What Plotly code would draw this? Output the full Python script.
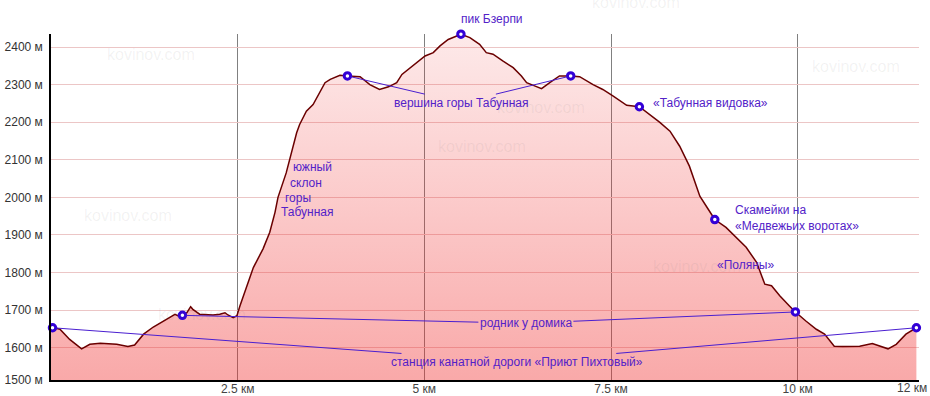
import plotly.graph_objects as go

# ---- data: elevation profile (km, m) ----
dist_km = [0.00, 0.12, 0.25, 0.41, 0.52, 0.66, 0.88, 1.03, 1.12, 1.24, 1.37, 1.55, 1.66, 1.70,
           1.76, 1.82, 1.87, 1.90, 1.99, 2.17, 2.26, 2.33, 2.37, 2.44, 2.49, 2.53, 2.62, 2.71,
           2.84, 2.93, 3.00, 3.04, 3.15, 3.24, 3.29, 3.33, 3.42, 3.51, 3.58, 3.67, 3.74, 3.82,
           3.87, 3.97, 4.14, 4.27, 4.40, 4.52, 4.63, 4.70, 4.81, 4.90, 5.01, 5.12, 5.21, 5.32,
           5.41, 5.49, 5.61, 5.74, 5.83, 5.92, 6.05, 6.19, 6.30, 6.37, 6.46, 6.57, 6.68, 6.81,
           6.96, 7.08, 7.26, 7.39, 7.53, 7.71, 7.88, 8.02, 8.15, 8.29, 8.42, 8.55, 8.69, 8.80,
           8.89, 9.04, 9.18, 9.31, 9.45, 9.56, 9.65, 9.76, 9.89, 9.97, 10.11, 10.25, 10.36,
           10.49, 10.60, 10.83, 11.00, 11.21, 11.32, 11.45, 11.59]
elev_m = [1655, 1649, 1622, 1597, 1609, 1612, 1609, 1603, 1607, 1636, 1655, 1677, 1689, 1685,
          1686, 1693, 1709, 1702, 1689, 1687, 1689, 1693, 1687, 1680, 1685, 1711, 1765, 1813,
          1863, 1907, 1960, 2000, 2065, 2136, 2172, 2194, 2229, 2247, 2274, 2305, 2314, 2320,
          2325, 2323, 2321, 2300, 2287, 2294, 2305, 2327, 2345, 2358, 2376, 2385, 2403, 2420,
          2428, 2434, 2425, 2407, 2385, 2381, 2363, 2345, 2323, 2305, 2298, 2289, 2305, 2323,
          2323, 2321, 2300, 2287, 2269, 2245, 2241, 2221, 2200, 2176, 2136, 2083, 2003, 1969,
          1941, 1920, 1893, 1867, 1827, 1769, 1765, 1738, 1711, 1695, 1671, 1649, 1636,
          1604, 1603, 1604, 1611, 1597, 1609, 1636, 1653]

# landmarks (markers)
lm_x = [0.02, 1.76, 3.97, 5.49, 6.96, 7.88, 8.89, 9.97, 11.59]
lm_y = [1653, 1686, 2323, 2434, 2323, 2241, 1941, 1695, 1653]

# axis ticks
x_tickvals = [2.5, 5, 7.5, 10]
x_ticktext = ["2.5 км", "5 км", "7.5 км", "10 км"]
x_end_label = "12 км"
y_tickvals = [1514, 1600, 1700, 1800, 1900, 2000, 2100, 2200, 2300, 2400]
y_ticktext = ["1500 м", "1600 м", "1700 м", "1800 м", "1900 м", "2000 м",
              "2100 м", "2200 м", "2300 м", "2400 м"]

X_RANGE = [0, 11.625]
Y_RANGE = [1514, 2434.6]

LABEL_C = "#5322c8"
LINK_C = "#4a1fd0"
FONT = "Arial, Liberation Sans, sans-serif"

fig = go.Figure()

fig.add_trace(go.Scatter(
    x=dist_km, y=elev_m, mode="lines",
    line=dict(color="#6a0000", width=1.5),
    fill="tozeroy",
    fillgradient=dict(type="vertical", start=Y_RANGE[0], stop=Y_RANGE[1],
                      colorscale=[[0, "rgba(240,40,40,0.40)"], [1, "rgba(240,40,40,0.10)"]]),
    hoverinfo="skip", showlegend=False,
))

fig.add_trace(go.Scatter(
    x=lm_x, y=lm_y, mode="markers",
    marker=dict(symbol="circle", size=6.5, color="white",
                line=dict(color="#3300d6", width=3)),
    cliponaxis=False, hoverinfo="skip", showlegend=False,
))

annotations = []

# watermarks (data-positioned inside the plot)
wm_pos = [(1.34, 2381), (5.77, 2134), (10.78, 2347), (1.03, 1953),
          (8.65, 1817), (6.56, 2240), (2.02, 1689)]
WM_FONT = dict(family=FONT, size=16, color="rgba(110,110,110,0.09)")
for wx, wy in wm_pos:
    annotations.append(dict(x=wx, y=wy, xref="x", yref="y", text="kovinov.com",
                            showarrow=False, font=WM_FONT))
# watermark above the plot area, cut by the top edge
annotations.append(dict(x=7.84, y=1, xref="x", yref="paper", yanchor="middle", yshift=32,
                        text="kovinov.com", showarrow=False, font=WM_FONT))

def linked(text, tx, ty, targets):
    for i, t in enumerate(targets):
        annotations.append(dict(
            x=lm_x[t], y=lm_y[t], xref="x", yref="y",
            ax=tx, ay=ty, axref="x", ayref="y",
            text=text, showarrow=True, arrowhead=0, arrowwidth=1,
            arrowcolor=LINK_C, standoff=4, borderpad=1,
            font=dict(family=FONT, size=12,
                      color=LABEL_C if i == 0 else "rgba(0,0,0,0)"),
        ))

linked("станция канатной дороги «Приют Пихтовый»", 6.24, 1562, [0, 8])
linked("родник у домика", 6.36, 1665, [1, 7])
linked("вершина горы Табунная", 5.49, 2252, [2, 4])

# peak label above the plot area
annotations.append(dict(x=5.90, y=1, xref="x", yref="paper", yanchor="middle", yshift=15,
                        text="пик Бзерпи", showarrow=False,
                        font=dict(family=FONT, size=12, color=LABEL_C)))

plain = [
    ("«Табунная видовка»", 8.83, 2251, "center"),
    ("Скамейки на<br>«Медвежьих воротах»", 9.14, 1944, "left"),
    ("«Поляны»", 9.30, 1820, "center"),
    ("южный", 3.50, 2080, "center"),
    ("склон", 3.41, 2038, "center"),
    ("горы", 3.31, 1998, "center"),
    ("Табунная", 3.43, 1961, "center"),
]
for text, tx, ty, anchor in plain:
    annotations.append(dict(x=tx, y=ty, xref="x", yref="y", text=text, showarrow=False,
                            xanchor=anchor, align="left",
                            font=dict(family=FONT, size=12, color=LABEL_C)))

annotations.append(dict(x=11.65, y=1549, xref="x", yref="y", text="kovinov.com",
                        showarrow=False, xanchor="right",
                        font=dict(family=FONT, size=12, color="#3d3dc4")))
annotations.append(dict(x=11.53, y=0, xref="x", yref="paper", yanchor="middle", yshift=-8,
                        text=x_end_label, showarrow=False,
                        font=dict(family=FONT, size=12, color="#444")))

fig.update_layout(
    width=930, height=396,
    margin=dict(l=51, r=11, t=34, b=16, autoexpand=False),
    paper_bgcolor="white", plot_bgcolor="white",
    font=dict(family=FONT, size=12, color="#333"),
    annotations=annotations,
    xaxis=dict(range=X_RANGE, tickvals=x_tickvals, ticktext=x_ticktext,
               showgrid=True, gridcolor="#808080", gridwidth=1,
               showline=True, linecolor="black", linewidth=1.5,
               ticks="", zeroline=False, automargin=False, fixedrange=True,
               ticklabelstandoff=-3,
               tickfont=dict(family=FONT, size=12, color="#444")),
    yaxis=dict(range=Y_RANGE, tickvals=y_tickvals, ticktext=y_ticktext,
               showgrid=True, gridcolor="#ecc6c6", gridwidth=1,
               showline=True, linecolor="black", linewidth=1.5,
               ticks="", zeroline=False, automargin=False, fixedrange=True,
               ticklabelstandoff=4,
               tickfont=dict(family=FONT, size=12, color="#333")),
)

fig.write_html(
    "out.html",
    config={"displayModeBar": False},
    post_script="document.body.style.margin='0';document.body.style.overflow='hidden';",
)
